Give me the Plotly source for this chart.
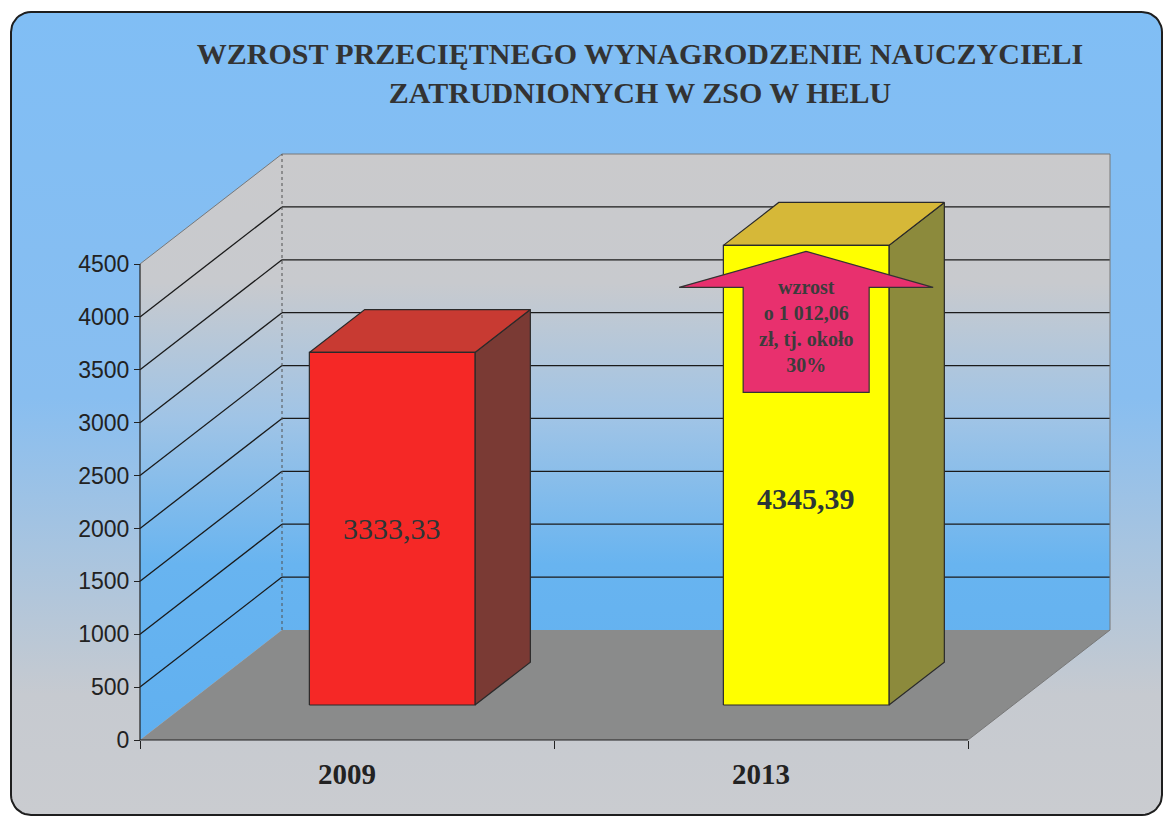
import math
import plotly.graph_objects as go

# ---------------- data ----------------
categories = ["2009", "2013"]
values = [3333.33, 4345.39]
value_labels = ["3333,33", "4345,39"]
y_ticks = [0, 500, 1000, 1500, 2000, 2500, 3000, 3500, 4000, 4500]
title_lines = ["WZROST PRZECIĘTNEGO WYNAGRODZENIE NAUCZYCIELI", "ZATRUDNIONYCH W ZSO W HELU"]
arrow_lines = ["wzrost", "o 1 012,06", "zł, tj. około", "30%"]

# ---------------- styling / geometry ----------------
W, H = 1164, 818
ORIGIN_PX = (140, 740)          # front-left-bottom corner of the 3D box
SLOT_PX = 414                   # pixels per category slot
VMAX = y_ticks[-1]
KY = (ORIGIN_PX[1] - 264) / VMAX  # pixels per value unit
DEPTH_PX = (142, 110)           # depth vector of the box (right, up)
BAR_W = 0.40
BAR_F0, BAR_F1 = 0.318, 0.708   # bar depth span (fractions of box depth)
LABEL_POS = [0.5, 0.45]

SERIF = "Liberation Serif, Times New Roman, serif"
SANS = "Liberation Sans, Arial, sans-serif"

front_cols = ["rgb(245,40,38)", "rgb(255,255,0)"]
top_cols = ["rgb(200,58,50)", "rgb(214,184,56)"]
side_cols = ["rgb(122,58,52)", "rgb(140,138,60)"]
ARROW_COL = "rgb(232,48,110)"

# axis ranges so that the whole figure is one coordinate system
x0 = -0.5 - ORIGIN_PX[0] / SLOT_PX
x1 = x0 + W / SLOT_PX
y0 = -(H - ORIGIN_PX[1]) / KY
y1 = y0 + H / KY
DDX = DEPTH_PX[0] / SLOT_PX
DDY = DEPTH_PX[1] / KY
AX_LO, AX_HI = -0.5, len(categories) - 0.5


def X(px):
    return x0 + px / SLOT_PX


def Y(py):
    return y0 + (H - py) / KY


def P(x, v, f):
    return (x + f * DDX, v + f * DDY)


def poly(points, **kw):
    xs = [p[0] for p in points] + [points[0][0]]
    ys = [p[1] for p in points] + [points[0][1]]
    return go.Scatter(x=xs, y=ys, mode="lines", fill="toself", hoverinfo="skip", **kw)


fig = go.Figure()

# ---- background frame (rounded rectangle with gradient) ----
def rounded_rect(l, t, r, b, rad, n=10):
    pts = []
    for cx, cy, a0 in [(r - rad, t + rad, -90), (r - rad, b - rad, 0),
                       (l + rad, b - rad, 90), (l + rad, t + rad, 180)]:
        for k in range(n + 1):
            a = math.radians(a0 + 90 * k / n)
            pts.append((cx + rad * math.cos(a), cy + rad * math.sin(a)))
    return [(X(px), Y(py)) for px, py in pts]

fig.add_trace(poly(rounded_rect(11, 12, 1162, 815, 20),
                   line=dict(color="#1e1e1e", width=2),
                   fillgradient=dict(type="vertical", start=Y(815), stop=Y(12),
                                     colorscale=[[0, "rgb(202,204,208)"], [0.15, "rgb(198,202,208)"],
                                                 [0.52, "rgb(136,190,240)"], [1, "rgb(128,190,245)"]])))

# ---- walls ----
wall_grad = dict(type="vertical", start=0, stop=VMAX + DDY,
                 colorscale=[[0, "rgb(96,176,240)"], [0.3, "rgb(104,180,240)"],
                             [0.55, "rgb(160,196,230)"], [0.78, "rgb(200,202,206)"],
                             [1, "rgb(202,202,204)"]])
side_wall = [P(AX_LO, 0, 0), P(AX_LO, 0, 1), P(AX_LO, VMAX, 1), P(AX_LO, VMAX, 0)]
back_wall = [P(AX_LO, 0, 1), P(AX_HI, 0, 1), P(AX_HI, VMAX, 1), P(AX_LO, VMAX, 1)]
floor = [P(AX_LO, 0, 0), P(AX_HI, 0, 0), P(AX_HI, 0, 1), P(AX_LO, 0, 1)]
fig.add_trace(poly(side_wall, line=dict(width=0), fillgradient=wall_grad))
fig.add_trace(poly(back_wall, line=dict(width=0), fillgradient=wall_grad))
fig.add_trace(poly(floor, line=dict(width=0), fillcolor="rgb(138,139,139)"))

# gridlines
gx, gy = [], []
for t in y_ticks[1:-1]:
    for a, b in [(P(AX_LO, t, 0), P(AX_LO, t, 1)), (P(AX_LO, t, 1), P(AX_HI, t, 1))]:
        gx += [a[0], b[0], None]
        gy += [a[1], b[1], None]
fig.add_trace(go.Scatter(x=gx, y=gy, mode="lines", line=dict(color="#1a1a1a", width=1.3), hoverinfo="skip"))

# wall edges
ex, ey = [], []
for a, b in [(P(AX_LO, VMAX, 0), P(AX_LO, VMAX, 1)), (P(AX_LO, VMAX, 1), P(AX_HI, VMAX, 1)),
             (P(AX_HI, VMAX, 1), P(AX_HI, 0, 1)), (P(AX_HI, 0, 1), P(AX_HI, 0, 0))]:
    ex += [a[0], b[0], None]
    ey += [a[1], b[1], None]
fig.add_trace(go.Scatter(x=ex, y=ey, mode="lines", line=dict(color="rgb(120,120,120)", width=1), hoverinfo="skip"))
a, b = P(AX_LO, 0, 1), P(AX_LO, VMAX, 1)
fig.add_trace(go.Scatter(x=[a[0], b[0]], y=[a[1], b[1]], mode="lines",
                         line=dict(color="rgb(80,80,80)", width=1, dash="dot"), hoverinfo="skip"))

# axis lines
a, b, c = P(AX_LO, VMAX, 0), P(AX_LO, 0, 0), P(AX_HI, 0, 0)
fig.add_trace(go.Scatter(x=[a[0], b[0], c[0]], y=[a[1], b[1], c[1]], mode="lines",
                         line=dict(color="#222", width=1.2), hoverinfo="skip"))

# ---- bars ----
edge = dict(color="#2a2a2a", width=1.2)
for i, v in enumerate(values):
    h = BAR_W / 2
    side = [P(i + h, 0, BAR_F0), P(i + h, 0, BAR_F1), P(i + h, v, BAR_F1), P(i + h, v, BAR_F0)]
    top = [P(i - h, v, BAR_F0), P(i + h, v, BAR_F0), P(i + h, v, BAR_F1), P(i - h, v, BAR_F1)]
    front = [P(i - h, 0, BAR_F0), P(i + h, 0, BAR_F0), P(i + h, v, BAR_F0), P(i - h, v, BAR_F0)]
    fig.add_trace(poly(side, line=edge, fillcolor=side_cols[i]))
    fig.add_trace(poly(top, line=edge, fillcolor=top_cols[i]))
    fig.add_trace(poly(front, line=edge, fillcolor=front_cols[i], name=categories[i]))
    lx, ly = P(i, v * LABEL_POS[i], BAR_F0)
    fig.add_annotation(x=lx, y=ly, text=value_labels[i], showarrow=False,
                       font=dict(family=SERIF, size=30, color="#2b3636",
                                 weight="bold" if i == 1 else "normal"))

# ---- growth arrow on the highest bar ----
k = values.index(max(values))
tx, ty = P(k, values[k], BAR_F0)
ty -= 6 / KY
arrow_px = [(0, 0), (127, 36), (63, 36), (63, 141), (-63, 141), (-63, 36), (-127, 36)]
arrow = [(tx + ox / SLOT_PX, ty - oy / KY) for ox, oy in arrow_px]
fig.add_trace(poly(arrow, line=dict(color="#333", width=1.2), fillcolor=ARROW_COL))
fig.add_annotation(x=tx, y=ty - 75 / KY, text="<br>".join(arrow_lines), showarrow=False,
                   font=dict(family=SERIF, size=20, color="#3c3c3c", weight="bold"))

# ---- layout ----
fig.update_layout(
    width=W, height=H, margin=dict(l=0, r=0, t=0, b=0),
    paper_bgcolor="white", plot_bgcolor="rgba(0,0,0,0)",
    showlegend=False, hovermode=False,
    title=dict(text="<br>".join(title_lines), x=640 / W, xanchor="center",
               y=1 - 64 / H, yanchor="middle",
               font=dict(family=SERIF, size=30, color="#333333", weight="bold")),
    xaxis=dict(range=[x0, x1], domain=[0, 1], anchor="free", position=(H - ORIGIN_PX[1]) / H,
               tickmode="array", tickvals=list(range(len(categories))), ticktext=categories,
               ticks="outside", ticklen=8, tickcolor="rgba(0,0,0,0)",
               tickfont=dict(family=SERIF, size=29, color="#222", weight="bold"),
               minor=dict(tickmode="array", tickvals=[AX_LO + j for j in range(len(categories) + 1)],
                          ticks="outside", ticklen=8, tickcolor="#222", tickwidth=1.2),
               showgrid=False, zeroline=False, showline=False, fixedrange=True),
    yaxis=dict(range=[y0, y1], domain=[0, 1], anchor="free", position=ORIGIN_PX[0] / W,
               tickmode="array", tickvals=y_ticks, ticks="outside", ticklen=6,
               tickcolor="#222", tickwidth=1.2,
               tickfont=dict(family=SANS, size=23, color="#222"),
               showgrid=False, zeroline=False, showline=False, fixedrange=True),
)

fig.write_html("out.html", config={"displayModeBar": False},
               post_script="document.body.style.margin='0';document.body.style.overflow='hidden';")
